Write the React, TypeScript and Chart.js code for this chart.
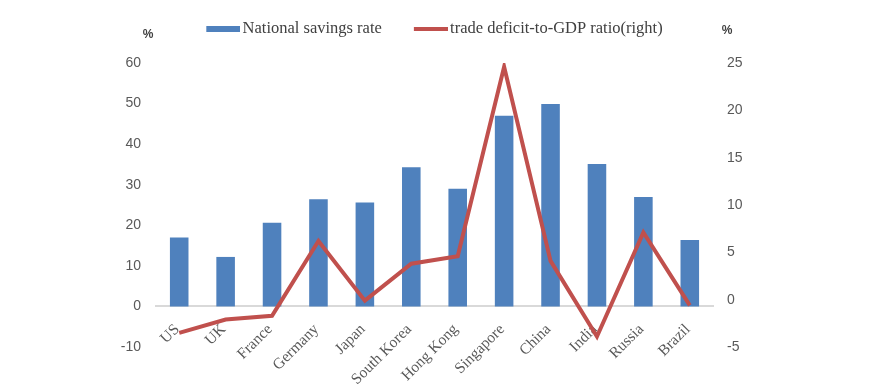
import React, { useEffect, useRef } from 'react';
import { Chart, registerables } from 'chart.js';

Chart.register(...registerables);

const categories = ['US', 'UK', 'France', 'Germany', 'Japan', 'South Korea', 'Hong Kong', 'Singapore', 'China', 'India', 'Russia', 'Brazil'];
const savingsRate = [17.0, 12.2, 20.6, 26.4, 25.6, 34.3, 29.0, 47.0, 49.9, 35.1, 27.0, 16.4];
const tradeDeficitRatio = [-3.5, -2.1, -1.7, 6.2, -0.1, 3.8, 4.6, 24.6, 4.1, -3.9, 7.1, -0.6];
const legendLabels = ['National savings rate', 'trade deficit-to-GDP ratio(right)'];
const leftAxisRange = [-10, 60, 10];
const rightAxisRange = [-5, 25, 5];
const axisUnit = '%';

const BLUE = '#4F81BD';
const RED = '#C0504D';

export default function App() {
  const ref = useRef<HTMLCanvasElement>(null);

  useEffect(() => {
    document.body.style.margin = '0';
    const makeSwatch = (color: string, h: number) => {
      const c = document.createElement('canvas');
      c.width = 62;
      c.height = h;
      const g = c.getContext('2d')!;
      g.fillStyle = color;
      g.fillRect(28, 0, 34, h);
      return c;
    };
    const blueSwatch = makeSwatch(BLUE, 6);
    const redSwatch = makeSwatch(RED, 4);

    const unitPlugin = {
      id: 'unitLabels',
      afterDraw(chart: any) {
        const { ctx, chartArea } = chart;
        ctx.save();
        ctx.font = 'bold 12px "Liberation Sans"';
        ctx.fillStyle = '#404040';
        ctx.textAlign = 'center';
        ctx.textBaseline = 'middle';
        ctx.fillText(axisUnit, chartArea.left - 8, 35);
        ctx.fillText(axisUnit, chartArea.right + 14, 31);
        ctx.restore();
      },
    };

    const tickFont = { family: 'Liberation Sans', size: 14 };

    const chart = new Chart(ref.current!, {
      type: 'bar',
      data: {
        labels: categories,
        datasets: [
          {
            type: 'bar',
            label: legendLabels[0],
            data: savingsRate,
            backgroundColor: BLUE,
            yAxisID: 'y',
            order: 1,
            barPercentage: 0.4,
            categoryPercentage: 1,
          },
          {
            type: 'line',
            label: legendLabels[1],
            data: tradeDeficitRatio,
            borderColor: RED,
            backgroundColor: RED,
            borderWidth: 4,
            pointRadius: 0,
            tension: 0,
            yAxisID: 'y1',
            order: 0,
          } as any,
        ],
      },
      options: {
        responsive: false,
        animation: false,
        devicePixelRatio: 1,
        layout: { padding: { top: 10.5, right: 26, left: 0, bottom: 0 } },
        plugins: {
          tooltip: { enabled: false },
          legend: {
            position: 'top',
            labels: {
              usePointStyle: true,
              pointStyleWidth: 50,
              padding: 10,
              color: '#404040',
              font: { family: 'Liberation Serif', size: 16.5 },
              generateLabels: () => [
                { text: legendLabels[0], pointStyle: blueSwatch, fillStyle: BLUE, strokeStyle: BLUE, lineWidth: 0, hidden: false, datasetIndex: 0, fontColor: '#404040' },
                { text: legendLabels[1], pointStyle: redSwatch, fillStyle: RED, strokeStyle: RED, lineWidth: 0, hidden: false, datasetIndex: 1, fontColor: '#404040' },
              ] as any,
            },
          },
        },
        scales: {
          x: {
            position: { y: 0 } as any,
            offset: true,
            grid: { display: false, drawTicks: false },
            border: { display: true, color: '#D9D9D9', width: 2 },
            ticks: {
              autoSkip: false,
              minRotation: 45,
              maxRotation: 45,
              padding: 14,
              labelOffset: -2,
              color: '#595959',
              font: { family: 'Liberation Serif', size: 15.5 },
            },
            afterFit: (s: any) => {
              s.height = 0;
              s.paddingLeft = 0;
              s.paddingRight = 0;
            },
          },
          spacer: {
            type: 'category',
            position: 'top',
            offset: true,
            grid: { display: false, drawTicks: false },
            border: { display: false },
            ticks: { display: false },
            afterFit: (s: any) => {
              s.height = 16;
              s.paddingLeft = 0;
              s.paddingRight = 0;
            },
          },
          y: {
            position: 'left',
            min: leftAxisRange[0],
            max: leftAxisRange[1],
            grid: { display: false, drawTicks: false },
            border: { display: false },
            ticks: { stepSize: leftAxisRange[2], padding: 15, color: '#595959', font: tickFont },
            afterFit: (s: any) => {
              s.width = 156;
              s.paddingTop = 63;
              s.paddingBottom = 44;
            },
          },
          y1: {
            position: 'right',
            min: rightAxisRange[0],
            max: rightAxisRange[1],
            grid: { display: false, drawTicks: false },
            border: { display: false },
            ticks: { stepSize: rightAxisRange[2], padding: 14, color: '#595959', font: tickFont },
            afterFit: (s: any) => {
              s.width = 134;
              s.paddingTop = 63;
              s.paddingBottom = 44;
            },
          },
        },
      },
      plugins: [unitPlugin],
    });
    return () => chart.destroy();
  }, []);

  return (
    <div style={{ position: 'relative', width: 873, height: 391 }}>
      <canvas ref={ref} width={873} height={391} style={{ display: 'block' }} />
    </div>
  );
}
